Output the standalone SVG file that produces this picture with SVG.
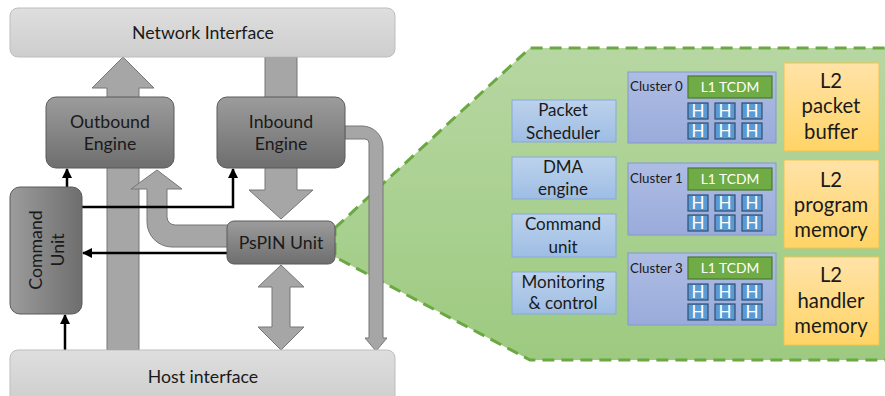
<svg xmlns="http://www.w3.org/2000/svg" width="885" height="396" viewBox="0 0 885 396">
  <defs>
    <linearGradient id="gIface" x1="0" y1="0" x2="0" y2="1">
      <stop offset="0" stop-color="#dedede"/>
      <stop offset="1" stop-color="#cecece"/>
    </linearGradient>
    <linearGradient id="gEngine" x1="0" y1="0" x2="0" y2="1">
      <stop offset="0" stop-color="#9c9c9c"/>
      <stop offset="1" stop-color="#6e6e6e"/>
    </linearGradient>
    <linearGradient id="gCmd" x1="0" y1="0" x2="1" y2="0">
      <stop offset="0" stop-color="#9c9c9c"/>
      <stop offset="1" stop-color="#6e6e6e"/>
    </linearGradient>
    <linearGradient id="gZone" x1="0" y1="0" x2="0" y2="1">
      <stop offset="0" stop-color="#b7d7a2"/>
      <stop offset="1" stop-color="#9dca80"/>
    </linearGradient>
    <linearGradient id="gBlue" x1="0" y1="0" x2="0" y2="1">
      <stop offset="0" stop-color="#bcd2ec"/>
      <stop offset="1" stop-color="#9ebde4"/>
    </linearGradient>
    <linearGradient id="gCluster" x1="0" y1="0" x2="0" y2="1">
      <stop offset="0" stop-color="#aebde4"/>
      <stop offset="1" stop-color="#9aabdb"/>
    </linearGradient>
    <linearGradient id="gL2" x1="0" y1="0" x2="0" y2="1">
      <stop offset="0" stop-color="#ffe3a8"/>
      <stop offset="1" stop-color="#ffd466"/>
    </linearGradient>
    <marker id="ah" viewBox="0 0 10 10" refX="9" refY="5" markerWidth="4" markerHeight="4" orient="auto" markerUnits="strokeWidth">
      <path d="M0,0 L10,5 L0,10 z" fill="#000"/>
    </marker>
  </defs>
  <style>
    text { font-family: Lato, "Open Sans", "Liberation Sans", sans-serif; fill: #1a1a1a; text-anchor: middle; }
    .iface { fill: url(#gIface); stroke: #bdbdbd; stroke-width: 1; }
    .eng { fill: url(#gEngine); stroke: #5a5a5a; stroke-width: 1; }
    .garrow { fill: #a6a6a6; stroke: #767676; stroke-width: 1; stroke-linejoin: miter; }
    .wire { fill: none; stroke: #000; stroke-width: 2.5; marker-end: url(#ah); }
    .t16 { font-size: 17.7px; }
    .blue { fill: url(#gBlue); stroke: #86a9d9; stroke-width: 1; }
    .cl { fill: url(#gCluster); stroke: #8298d0; stroke-width: 1; }
    .l1 { fill: #6fac46; stroke: #4b7a2c; stroke-width: 1.2; }
    .h { fill: #5b9bd5; stroke: #2f4f6f; stroke-width: 1.2; }
    .ht { fill: #fff; font-size: 17px; }
    .l2 { fill: url(#gL2); stroke: #f3c24e; stroke-width: 1; }
    .bt { font-size: 17px; }
    .l2t { font-size: 20.3px; }
    .clt { font-size: 13.3px; text-anchor: start; }
    .l1t { fill: #fff; font-size: 13.8px; }
  </style>

  <!-- zoomed PsPIN area -->
  <g id="pspin-zoom">
    <polygon points="335,228 530,48 890,48 890,360 530,360 335,257" fill="url(#gZone)" stroke="#6aa842" stroke-width="3" stroke-dasharray="12 7"/>
  </g>

  <!-- wide data-path arrows -->
  <g id="connectors">
    <!-- outbound: host -> network -->
    <polygon class="garrow" points="107,350 107,88 92,88 123,57 154,88 139,88 139,350"/>
    <!-- inbound: network -> PsPIN -->
    <polygon class="garrow" points="265,57 297,57 297,190 313,190 281,219 249,190 265,190"/>
    <!-- PsPIN -> outbound engine -->
    <path class="garrow" d="M228,225 L175,225 A8,8 0 0 1 167,217 L167,189 L182,189 L157,170 L131,189 L147,189 L147,222 A25,25 0 0 0 172,247 L228,247 Z"/>
    <!-- inbound engine -> host bypass -->
    <path class="garrow" d="M345,126 L362,126 A21,21 0 0 1 383,147 L383,338 L387,338 L376,351 L365,338 L369,338 L369,143 A4,4 0 0 0 365,139 L345,139 Z"/>
    <!-- PsPIN <-> host -->
    <polygon class="garrow" points="281,265 304,287 290,287 290,327 304,327 281,350 258,327 272,327 272,287 258,287"/>

    <!-- control wires -->
    <line class="wire" x1="67" y1="187" x2="67" y2="169"/>
    <polyline class="wire" points="82,207 233,207 233,169"/>
    <line class="wire" x1="227" y1="253" x2="83" y2="253"/>
    <line class="wire" x1="65" y1="350" x2="65" y2="315"/>
  </g>

  <g id="network-interface">
    <rect class="iface" x="10" y="8" width="385" height="49" rx="8"/>
    <text class="t16" x="203" y="39">Network Interface</text>
  </g>
  <g id="host-interface">
    <rect class="iface" x="10" y="350" width="385" height="54" rx="8"/>
    <text class="t16" x="203" y="383">Host interface</text>
  </g>
  <g id="outbound-engine">
    <rect class="eng" x="46" y="97" width="128" height="71" rx="10"/>
    <text class="t16" x="110" y="128">Outbound</text>
    <text class="t16" x="110" y="150">Engine</text>
  </g>
  <g id="inbound-engine">
    <rect class="eng" x="217" y="97" width="128" height="71" rx="10"/>
    <text class="t16" x="281" y="128">Inbound</text>
    <text class="t16" x="281" y="150">Engine</text>
  </g>
  <g id="command-unit">
    <rect x="10" y="187" width="72" height="127" rx="10" fill="url(#gCmd)" stroke="#5a5a5a" stroke-width="1"/>
    <text class="t16" transform="translate(42,250) rotate(-90)">Command</text>
    <text class="t16" transform="translate(64,250) rotate(-90)">Unit</text>
  </g>
  <g id="pspin-unit">
    <rect class="eng" x="227" y="221" width="108" height="43" rx="7"/>
    <text class="t16" x="281" y="249">PsPIN Unit</text>
  </g>

  <!-- PsPIN internals -->
  <g id="packet-scheduler">
    <rect class="blue" x="512" y="100" width="104" height="42"/>
    <text class="bt" x="563" y="116">Packet</text>
    <text class="bt" x="563" y="139">Scheduler</text>
  </g>
  <g id="dma-engine">
    <rect class="blue" x="512" y="157" width="104" height="42"/>
    <text class="bt" x="563" y="173">DMA</text>
    <text class="bt" x="563" y="195">engine</text>
  </g>
  <g id="pspin-command-unit">
    <rect class="blue" x="512" y="214" width="104" height="43"/>
    <text class="bt" x="563" y="230">Command</text>
    <text class="bt" x="563" y="253">unit</text>
  </g>
  <g id="monitoring-control">
    <rect class="blue" x="512" y="272" width="104" height="42"/>
    <text class="bt" x="563" y="288">Monitoring</text>
    <text class="bt" x="563" y="309">&amp; control</text>
  </g>

  <g id="cluster-0">
    <rect class="cl" x="628" y="72" width="148" height="71"/>
    <text class="clt" x="630" y="91">Cluster 0</text>
    <rect class="l1" x="688" y="76" width="84" height="22"/>
    <text class="l1t" x="730" y="92">L1 TCDM</text>
    <rect class="h" x="688" y="103" width="20" height="16"/><text class="ht" x="698" y="117">H</text>
    <rect class="h" x="715" y="103" width="20" height="16"/><text class="ht" x="725" y="117">H</text>
    <rect class="h" x="742" y="103" width="20" height="16"/><text class="ht" x="752" y="117">H</text>
    <rect class="h" x="688" y="123" width="20" height="16"/><text class="ht" x="698" y="137">H</text>
    <rect class="h" x="715" y="123" width="20" height="16"/><text class="ht" x="725" y="137">H</text>
    <rect class="h" x="742" y="123" width="20" height="16"/><text class="ht" x="752" y="137">H</text>
  </g>
  <g id="cluster-1">
    <rect class="cl" x="628" y="163" width="148" height="72"/>
    <text class="clt" x="630" y="183">Cluster 1</text>
    <rect class="l1" x="688" y="168" width="84" height="22"/>
    <text class="l1t" x="730" y="184">L1 TCDM</text>
    <rect class="h" x="688" y="195" width="20" height="16"/><text class="ht" x="698" y="209">H</text>
    <rect class="h" x="715" y="195" width="20" height="16"/><text class="ht" x="725" y="209">H</text>
    <rect class="h" x="742" y="195" width="20" height="16"/><text class="ht" x="752" y="209">H</text>
    <rect class="h" x="688" y="215" width="20" height="16"/><text class="ht" x="698" y="229">H</text>
    <rect class="h" x="715" y="215" width="20" height="16"/><text class="ht" x="725" y="229">H</text>
    <rect class="h" x="742" y="215" width="20" height="16"/><text class="ht" x="752" y="229">H</text>
  </g>
  <g id="cluster-3">
    <rect class="cl" x="628" y="253" width="148" height="72"/>
    <text class="clt" x="630" y="273">Cluster 3</text>
    <rect class="l1" x="688" y="257" width="84" height="22"/>
    <text class="l1t" x="730" y="273">L1 TCDM</text>
    <rect class="h" x="688" y="284" width="20" height="16"/><text class="ht" x="698" y="298">H</text>
    <rect class="h" x="715" y="284" width="20" height="16"/><text class="ht" x="725" y="298">H</text>
    <rect class="h" x="742" y="284" width="20" height="16"/><text class="ht" x="752" y="298">H</text>
    <rect class="h" x="688" y="304" width="20" height="16"/><text class="ht" x="698" y="318">H</text>
    <rect class="h" x="715" y="304" width="20" height="16"/><text class="ht" x="725" y="318">H</text>
    <rect class="h" x="742" y="304" width="20" height="16"/><text class="ht" x="752" y="318">H</text>
  </g>

  <g id="l2-packet-buffer">
    <rect class="l2" x="784" y="63" width="95" height="88"/>
    <text class="l2t" x="831" y="88">L2</text>
    <text class="l2t" x="831" y="113">packet</text>
    <text class="l2t" x="831" y="139">buffer</text>
  </g>
  <g id="l2-program-memory">
    <rect class="l2" x="784" y="160" width="95" height="88"/>
    <text class="l2t" x="831" y="187">L2</text>
    <text class="l2t" x="831" y="212">program</text>
    <text class="l2t" x="831" y="237">memory</text>
  </g>
  <g id="l2-handler-memory">
    <rect class="l2" x="784" y="257" width="95" height="88"/>
    <text class="l2t" x="831" y="282">L2</text>
    <text class="l2t" x="831" y="308">handler</text>
    <text class="l2t" x="831" y="333">memory</text>
  </g>
</svg>
